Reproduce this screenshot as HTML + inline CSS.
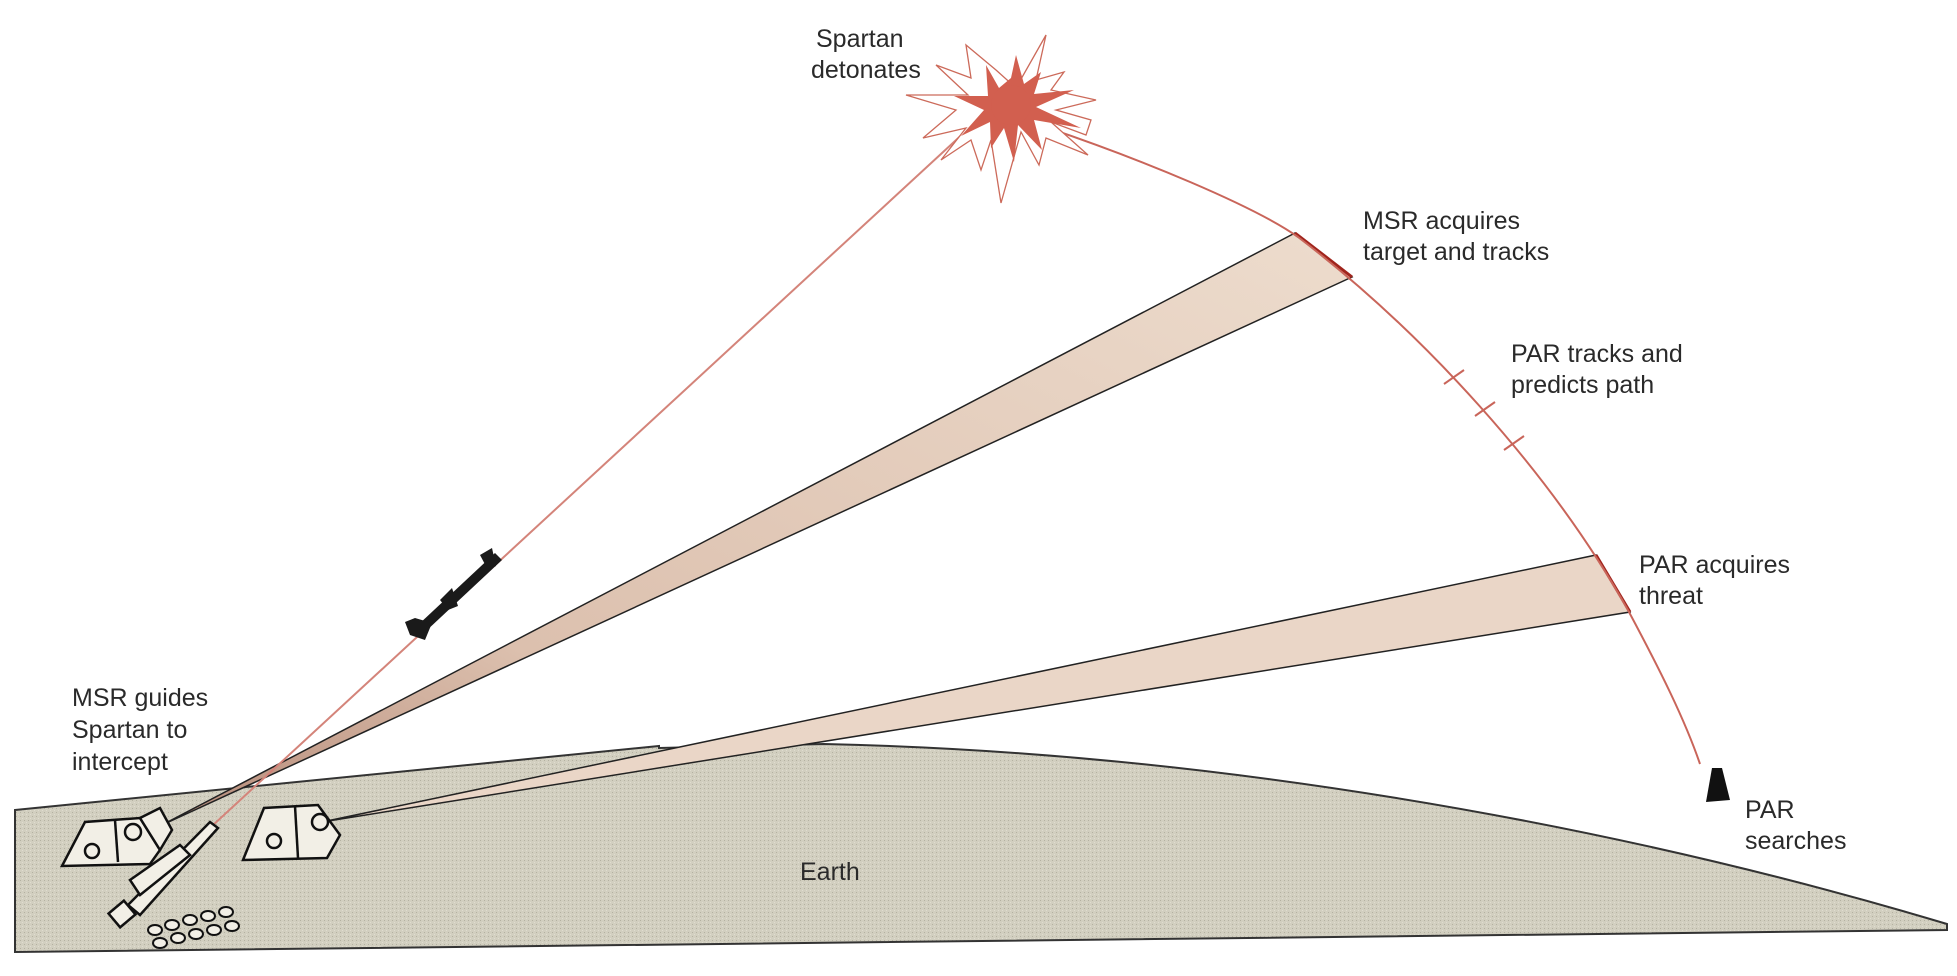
<!DOCTYPE html>
<html><head><meta charset="utf-8"><style>
html,body{margin:0;padding:0;background:#fff;}
svg{display:block;}
text{font-family:"Liberation Sans",sans-serif;fill:#2a2a2a;font-size:25px;}
</style></head><body>
<svg width="1957" height="976" viewBox="0 0 1957 976" xmlns="http://www.w3.org/2000/svg">
<defs>
<pattern id="dots" width="4" height="4" patternUnits="userSpaceOnUse">
<rect width="4" height="4" fill="#d2cfc0"/>
<rect x="0" y="0" width="1" height="1" fill="#b4b1a1"/>
<rect x="2" y="2" width="1" height="1" fill="#e0ddd0"/>
</pattern>
<linearGradient id="g1" x1="0" y1="1" x2="1" y2="0">
<stop offset="0" stop-color="#b58a78"/><stop offset="0.3" stop-color="#dcc0ae"/><stop offset="1" stop-color="#eddccd"/>
</linearGradient>
</defs>
<path d="M15,810 L659,746 L659,748 L824,744 C1200,752 1600,820 1947,924 L1947,930 L15,952 Z" fill="url(#dots)" stroke="#333" stroke-width="2"/>
<polygon points="160,826 1295,233 1352,277" fill="url(#g1)" stroke="#222" stroke-width="1.5"/>
<polygon points="322,822 1596,555 1630,612" fill="#ead6c7" stroke="#222" stroke-width="1.5"/>
<line x1="1295" y1="233" x2="1352" y2="277" stroke="#a0241c" stroke-width="3"/>
<line x1="1596" y1="555" x2="1630" y2="612" stroke="#a0241c" stroke-width="3"/>
<path d="M1000,112 C1150,160 1260,210 1298,237 C1420,330 1550,470 1629,612 C1660,670 1685,720 1700,764" fill="none" stroke="#c9655a" stroke-width="2"/>
<g stroke="#c9655a" stroke-width="2">
<line x1="1444" y1="384" x2="1464" y2="370"/>
<line x1="1475" y1="416" x2="1495" y2="402"/>
<line x1="1504" y1="450" x2="1524" y2="436"/>
</g>
<line x1="980" y1="118" x2="212" y2="826" stroke="#d4847a" stroke-width="2"/>
<g transform="translate(6,10)">
<polygon points="990,60 1010,78 1040,25 1030,70 1058,62 1045,80 1090,90 1050,100 1085,110 1080,125 1045,112 1082,145 1040,128 1033,155 1015,122 995,193 985,130 975,160 965,130 935,150 960,118 917,128 950,100 900,85 962,85 930,55 965,68 960,35" fill="#fff" stroke="#cc6a5a" stroke-width="1.3"/>
<polygon points="993,78 1005,68 1010,45 1018,74 1035,62 1028,84 1068,80 1030,97 1075,118 1028,110 1036,140 1012,115 1008,152 998,118 985,138 984,112 955,126 978,100 948,86 982,86 980,55" fill="#d25f4f"/>
<circle cx="1005" cy="95" r="20" fill="#d25f4f"/>
</g>
<g fill="#1a1a1a">
<polygon points="495,553 502,560 425,632 418,625"/>
<polygon points="415,618 432,623 425,640 410,635 405,622"/>
<polygon points="440,600 452,588 458,606 448,610"/>
<polygon points="480,555 492,548 496,566 488,570"/>
</g>
<polygon points="1712,768 1722,768 1730,800 1706,802" fill="#111"/>
<g stroke="#111" stroke-width="2.5" fill="#f2efe6">
<polygon points="62,866 85,822 140,818 160,850 150,864"/>
<line x1="115" y1="820" x2="118" y2="862"/>
<polygon points="140,818 160,808 172,830 160,850"/>
<circle cx="133" cy="832" r="8"/>
<circle cx="92" cy="851" r="7"/>
<polygon points="243,860 264,808 318,805 340,835 327,858"/>
<line x1="295" y1="806" x2="298" y2="858"/>
<circle cx="320" cy="822" r="8"/>
<circle cx="274" cy="841" r="7"/>
</g>
<g stroke="#111" stroke-width="2.5" fill="#f2efe6">
<polygon points="210,822 218,828 140,915 128,905"/>
<polygon points="130,880 180,845 190,855 140,895"/>
<rect x="112" y="905" width="20" height="18" transform="rotate(-40 122 914)"/>
</g>
<g fill="#f2efe6" stroke="#111" stroke-width="2">
<ellipse cx="155" cy="930" rx="7" ry="5"/><ellipse cx="172" cy="925" rx="7" ry="5"/><ellipse cx="190" cy="920" rx="7" ry="5"/><ellipse cx="208" cy="916" rx="7" ry="5"/><ellipse cx="226" cy="912" rx="7" ry="5"/>
<ellipse cx="160" cy="943" rx="7" ry="5"/><ellipse cx="178" cy="938" rx="7" ry="5"/><ellipse cx="196" cy="934" rx="7" ry="5"/><ellipse cx="214" cy="930" rx="7" ry="5"/><ellipse cx="232" cy="926" rx="7" ry="5"/>
</g>
<text x="816" y="47">Spartan</text>
<text x="811" y="78">detonates</text>
<text x="1363" y="229">MSR acquires</text>
<text x="1363" y="260">target and tracks</text>
<text x="1511" y="362">PAR tracks and</text>
<text x="1511" y="393">predicts path</text>
<text x="1639" y="573">PAR acquires</text>
<text x="1639" y="604">threat</text>
<text x="1745" y="818">PAR</text>
<text x="1745" y="849">searches</text>
<text x="800" y="880">Earth</text>
<text x="72" y="706">MSR guides</text>
<text x="72" y="738">Spartan to</text>
<text x="72" y="770">intercept</text>
</svg>
</body></html>
